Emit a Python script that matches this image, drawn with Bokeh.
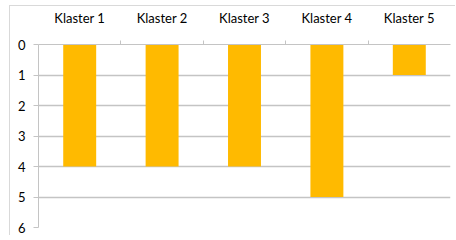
from bokeh.plotting import figure
from bokeh.models import Range1d, LinearAxis, FixedTicker
from bokeh.embed import file_html
from bokeh.resources import INLINE

categories = ["Klaster 1", "Klaster 2", "Klaster 3", "Klaster 4", "Klaster 5"]
values = [4, 4, 4, 5, 1]
y_ticks = [0, 1, 2, 3, 4, 5, 6]

FONT = "Lato"
GRID = "#c4c4c4"

n = len(categories)
centers = [i + 0.5 for i in range(n)]

p = figure(width=446, height=230, output_backend="svg", toolbar_location=None,
           x_range=Range1d(0, n), y_range=Range1d(6, 0),
           x_axis_location=None, y_axis_location="left",
           min_border_left=28, min_border_top=34, min_border_right=6, min_border_bottom=9)
p.outline_line_color = None
# outer chart-area border (top/left visible; right/bottom run past the window in the reference)
p.styles = {"margin-left": "9px", "margin-top": "5px",
            "border-left": "1px solid #d9d9d9", "border-top": "1px solid #d9d9d9"}

p.vbar(x=centers, top=[0] * n, bottom=values, width=0.4,
       fill_color="#FFBA00", line_color=None)

# boundary ticks axis (closest to frame)
bax = LinearAxis(ticker=FixedTicker(ticks=list(range(1, n))))
bax.major_label_text_font_size = "0px"
bax.major_label_text_color = None
bax.major_tick_out = 4
bax.major_tick_in = 0
bax.minor_tick_line_color = None
bax.axis_line_color = GRID
bax.major_tick_line_color = GRID
bax.major_label_standoff = 0
p.add_layout(bax, "above")

cax = LinearAxis(ticker=FixedTicker(ticks=centers),
                 major_label_overrides={c: lab for c, lab in zip(centers, categories)})
cax.axis_line_color = None
cax.major_tick_line_color = None
cax.minor_tick_line_color = None
cax.major_label_text_font = FONT
cax.major_label_text_font_size = "13px"
cax.major_label_text_color = "black"
cax.major_label_standoff = 9
p.add_layout(cax, "above")

ya = p.yaxis[0]
ya.ticker = FixedTicker(ticks=y_ticks)
ya.minor_tick_line_color = None
ya.axis_line_color = GRID
ya.major_tick_line_color = GRID
ya.major_tick_out = 5
ya.major_tick_in = 0
ya.major_label_text_font = FONT
ya.major_label_text_font_size = "13px"
ya.major_label_text_color = "black"
ya.major_label_standoff = 8

p.xgrid.grid_line_color = None
p.ygrid.ticker = FixedTicker(ticks=y_ticks[1:])
p.ygrid.grid_line_color = GRID
p.ygrid.grid_line_width = 1.3

open("out.html", "w").write(file_html(p, INLINE))
